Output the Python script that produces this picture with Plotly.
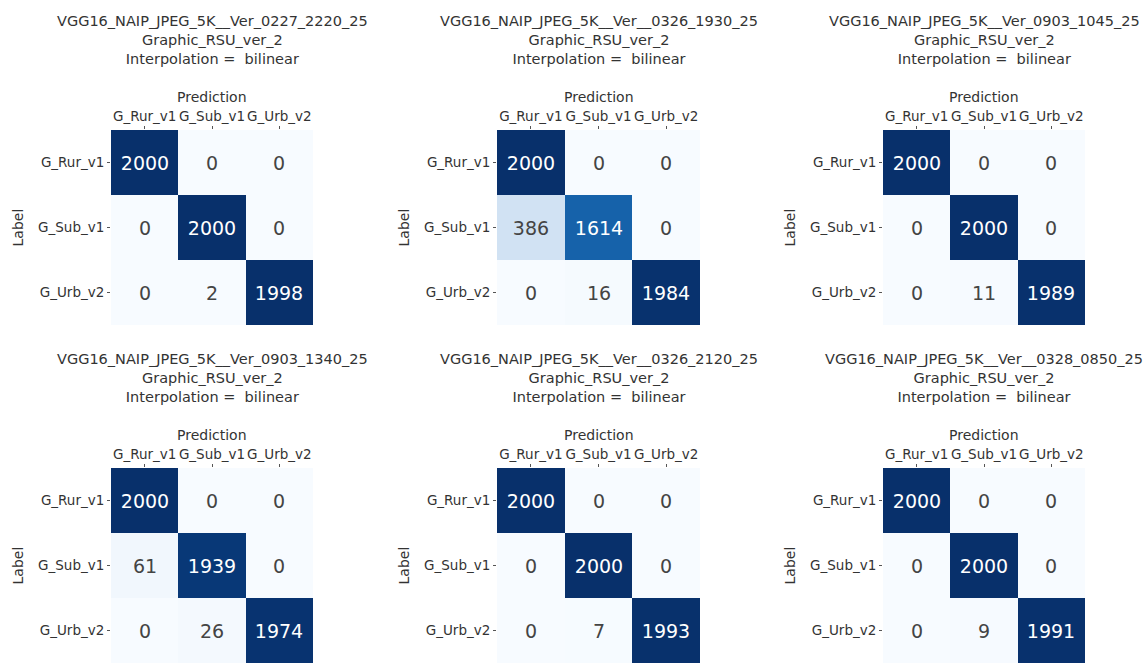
import plotly.graph_objects as go

classes = ["G_Rur_v1", "G_Sub_v1", "G_Urb_v2"]

titles = [
    "VGG16_NAIP_JPEG_5K__Ver_0227_2220_25",
    "VGG16_NAIP_JPEG_5K__Ver__0326_1930_25",
    "VGG16_NAIP_JPEG_5K__Ver_0903_1045_25",
    "VGG16_NAIP_JPEG_5K__Ver_0903_1340_25",
    "VGG16_NAIP_JPEG_5K__Ver__0326_2120_25",
    "VGG16_NAIP_JPEG_5K__Ver__0328_0850_25",
]
subtitle = "Graphic_RSU_ver_2"
interp = "Interpolation =  bilinear"

cm_1 = [[2000, 0, 0], [0, 2000, 0], [0, 2, 1998]]
cm_2 = [[2000, 0, 0], [386, 1614, 0], [0, 16, 1984]]
cm_3 = [[2000, 0, 0], [0, 2000, 0], [0, 11, 1989]]
cm_4 = [[2000, 0, 0], [61, 1939, 0], [0, 26, 1974]]
cm_5 = [[2000, 0, 0], [0, 2000, 0], [0, 7, 1993]]
cm_6 = [[2000, 0, 0], [0, 2000, 0], [0, 9, 1991]]
matrices = [cm_1, cm_2, cm_3, cm_4, cm_5, cm_6]

blues = [
    [0.0, "rgb(247,251,255)"], [0.125, "rgb(222,235,247)"], [0.25, "rgb(198,219,239)"],
    [0.375, "rgb(158,202,225)"], [0.5, "rgb(107,174,214)"], [0.625, "rgb(66,146,198)"],
    [0.75, "rgb(33,113,181)"], [0.875, "rgb(8,81,156)"], [1.0, "rgb(8,48,107)"],
]

W, H = 1143, 663
col_px = [(111, 313), (497, 700), (883, 1085)]
row_px = [(130, 325), (468, 663)]
FONT = "DejaVu Sans"
TXT = "#333333"

fig = go.Figure()
annotations = []
for i, cm in enumerate(matrices):
    r, c = divmod(i, 3)
    n = i + 1
    xa = "x" if n == 1 else f"x{n}"
    ya = "y" if n == 1 else f"y{n}"
    fig.add_trace(go.Heatmap(
        z=cm, x=classes, y=classes, xaxis=xa, yaxis=ya,
        colorscale=blues, zmin=0, zmax=2000, showscale=False,
        texttemplate="%{z}", textfont=dict(size=19, family=FONT),
        hoverinfo="skip",
    ))
    x0, x1 = col_px[c]
    y0, y1 = row_px[r]
    xd = [x0 / W, x1 / W]
    yd = [1 - y1 / H, 1 - y0 / H]
    axkw = dict(showgrid=False, zeroline=False, showline=False, ticks="outside",
                ticklen=3, tickcolor="#555555", automargin=False, tickangle=0,
                tickfont=dict(size=13.5, family=FONT, color=TXT))
    fig.update_layout(**{
        ("xaxis" if n == 1 else f"xaxis{n}"): dict(domain=xd, anchor=ya, side="top", **axkw),
        ("yaxis" if n == 1 else f"yaxis{n}"): dict(domain=yd, anchor=xa, autorange="reversed", **axkw),
    })
    xref_d = f"{xa} domain"
    yref_d = f"{ya} domain"
    annotations.append(dict(
        text=f"{titles[i]}<br>{subtitle}<br>{interp}", xref=xref_d, yref="paper",
        x=0.5, y=1 - (y0 - 119) / H, xanchor="center", yanchor="top", showarrow=False,
        font=dict(size=14.5, family=FONT, color=TXT), align="center"))
    annotations.append(dict(
        text="Prediction", xref=xref_d, yref="paper", x=0.5, y=1 - (y0 - 33) / H,
        xanchor="center", yanchor="middle", showarrow=False,
        font=dict(size=14, family=FONT, color=TXT)))
    annotations.append(dict(
        text="Label", xref="paper", yref=yref_d, x=(x0 - 94) / W, y=0.5,
        xanchor="center", yanchor="middle", textangle=-90, showarrow=False,
        font=dict(size=14, family=FONT, color=TXT)))

fig.update_layout(
    width=W, height=H, margin=dict(l=0, r=0, t=0, b=0),
    paper_bgcolor="white", plot_bgcolor="white",
    annotations=annotations, showlegend=False,
)
fig.write_html("out.html", config={"displayModeBar": False},
               post_script="document.body.style.margin='0';document.body.style.overflow='hidden';")
